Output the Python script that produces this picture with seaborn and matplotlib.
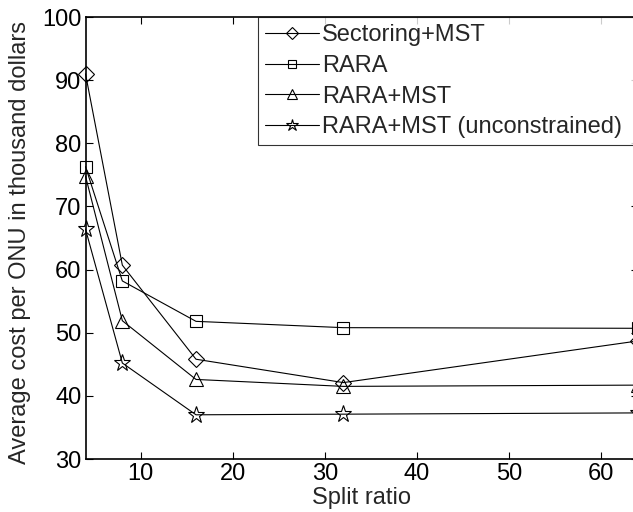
import numpy as np
import pandas as pd
import matplotlib
matplotlib.use("Agg")
import matplotlib.pyplot as plt
import seaborn as sns

split_ratio = [4, 8, 16, 32, 64]
sectoring_mst = [91.0, 60.7, 45.8, 42.1, 48.7]
rara = [76.3, 58.2, 51.8, 50.8, 50.7]
rara_mst = [74.8, 51.9, 42.6, 41.5, 41.7]
rara_mst_unc = [66.4, 45.2, 37.0, 37.1, 37.3]

series_names = ["Sectoring+MST", "RARA", "RARA+MST", "RARA+MST (unconstrained)"]
series_values = [sectoring_mst, rara, rara_mst, rara_mst_unc]
series_markers = ["D", "s", "^", "*"]
marker_sizes = [8.5, 8, 10, 12.5]

sns.set_theme(style="white")
plt.rcParams["font.family"] = ["Liberation Sans", "DejaVu Sans"]

fs = 17
fig = plt.figure(figsize=(6.33, 5.12), dpi=100)
ax = fig.add_axes([85.5 / 633, 1 - 459 / 512, (638 - 85.5) / 633, (459 - 17) / 512])

for name, vals, mk, ms in zip(series_names, series_values, series_markers, marker_sizes):
    df = pd.DataFrame({"x": split_ratio, "y": vals})
    sns.lineplot(data=df, x="x", y="y", ax=ax, color="black", linewidth=0.8,
                 marker=mk, markersize=ms, markerfacecolor="none",
                 markeredgecolor="black", markeredgewidth=0.8, label=name,
                 clip_on=False)

ax.set_xlim(4, 64)
ax.set_ylim(30, 100)
ax.set_xticks([10, 20, 30, 40, 50, 60])
ax.set_yticks([30, 40, 50, 60, 70, 80, 90, 100])
ax.tick_params(direction="in", length=5, width=0.8, labelsize=fs, colors="black",
               top=True, right=True, bottom=True, left=True, pad=3)
for s in ax.spines.values():
    s.set_color("black")
    s.set_linewidth(1.2)
ax.set_xlabel("Split ratio", fontsize=fs, labelpad=1)
ax.set_ylabel("Average cost per ONU in thousand dollars", fontsize=fs)
ax.yaxis.set_label_coords(-0.098, 0.49)

leg_x0 = (258 - 85.5) / (638 - 85.5)
leg = ax.legend(loc="upper left", bbox_to_anchor=(leg_x0, 0.0, 1.0 - leg_x0, 1.0),
                mode="expand", fontsize=fs, frameon=True, fancybox=False, edgecolor="black",
                handlelength=2.3, handletextpad=0.1, borderpad=0.3, labelspacing=0.37,
                markerscale=0.7, borderaxespad=0)
leg.get_frame().set_linewidth(0.8)

fig.savefig("out.png", dpi=100)
